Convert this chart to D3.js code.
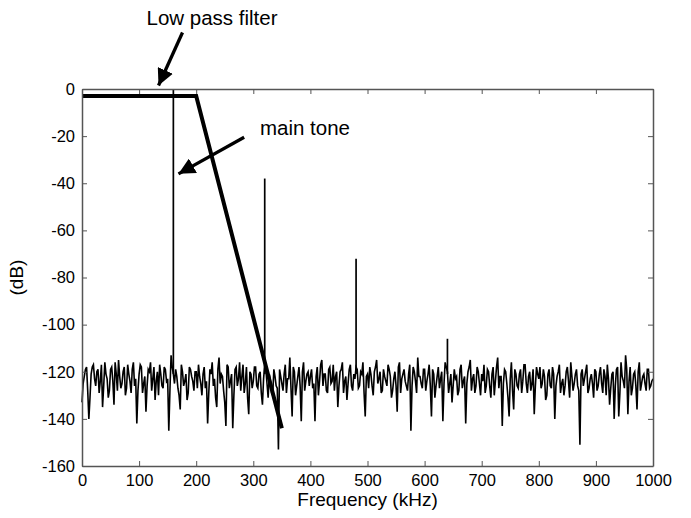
<!DOCTYPE html>
<html>
<head>
<meta charset="utf-8">
<script src="https://cdn.jsdelivr.net/npm/d3@7"></script>
<style>
  body { margin: 0; background: #fff; }
  text { font-family: "Liberation Sans", Arial, sans-serif; }
</style>
</head>
<body>
<div id="chart"></div>
<script>
// noise floor, read at 0, 4, 8 ... 1000 kHz
const noiseDb = [
  -133, -122, -118, -140, -121, -117, -126, -119, -124, -135, -116, -123, -128, -118, -134, -121, -115, -127, -120, -130, -117, -124, -119, -126, -142,
  -121, -118, -125, -137, -119, -116, -123, -132, -120, -117, -126, -118, -124, -145, -113, -121, -119, -127, -136, -120, -124, -132, -118, -122, -128,
  -120, -117, -125, -121, -127, -142, -119, -116, -123, -135, -114, -121, -128, -143, -118, -124, -144, -119, -126, -116, -122, -129, -118, -138, -121,
  -124, -118, -127, -120, -134, -117, -125, -121, -129, -119, -126, -153, -122, -128, -117, -123, -114, -139, -120, -126, -118, -141, -116, -124, -120,
  -122, -127, -141, -118, -124, -115, -121, -128, -119, -125, -117, -122, -135, -120, -116, -124, -132, -119, -126, -121, -118, -127, -120, -116, -139,
  -121, -118, -126, -120, -115, -123, -129, -119, -124, -117, -122, -128, -120, -137, -116, -123, -119, -126, -121, -145, -118, -124, -114, -122, -127,
  -119, -124, -117, -139, -121, -126, -118, -123, -141, -116, -120, -125, -133, -119, -122, -128, -117, -124, -142, -120, -115, -123, -129, -118, -125,
  -121, -117, -126, -120, -131, -118, -124, -114, -122, -143, -119, -125, -139, -116, -136, -121, -127, -119, -124, -117, -129, -120, -125, -138, -118,
  -123, -127, -119, -132, -121, -126, -118, -140, -122, -117, -125, -130, -120, -124, -116, -128, -121, -126, -151, -119, -123, -117, -127, -121, -131,
  -120, -126, -118, -129, -122, -117, -134, -121, -140, -119, -139, -116, -124, -113, -138, -118, -127, -120, -136, -116, -125, -121, -128, -119, -126,
  -123
];

// noise floor in between, read at 2, 6, 10 ... 998 kHz
const noiseDbMid = [
  -125, -119, -128, -131, -118, -123, -120, -129, -117, -126, -121, -131, -119, -124, -116, -128, -122, -125, -118, -127, -121, -129, -116, -123, -128,
  -117, -129, -122, -126, -120, -128, -118, -124, -130, -121, -127, -119, -123, -128, -118, -125, -122, -130, -117, -126, -121, -129, -119, -124, -120,
  -127, -122, -130, -118, -124, -129, -121, -126, -131, -119, -125, -122, -133, -117, -127, -121, -130, -118, -123, -128, -117, -125, -131, -120, -127,
  -118, -126, -121, -129, -123, -119, -131, -124, -130, -122, -127, -119, -125, -121, -129, -123, -127, -118, -130, -122, -126, -120, -128, -121, -126,
  -119, -125, -122, -130, -117, -126, -121, -129, -118, -124, -128, -120, -126, -119, -129, -122, -125, -117, -128, -123, -119, -126, -121, -129, -122,
  -127, -121, -130, -118, -125, -120, -128, -122, -126, -119, -131, -123, -126, -118, -129, -121, -124, -128, -117, -126, -120, -129, -122, -125, -119,
  -128, -121, -126, -119, -131, -122, -127, -120, -125, -118, -129, -121, -126, -123, -130, -119, -127, -122, -125, -118, -128, -121, -126, -120, -130,
  -124, -129, -119, -126, -121, -130, -118, -127, -122, -125, -120, -131, -123, -128, -119, -126, -121, -129, -117, -125, -122, -128, -119, -126, -121,
  -118, -125, -122, -130, -119, -127, -121, -126, -120, -129, -123, -126, -118, -131, -122, -125, -119, -128, -121, -126, -120, -129, -123, -125, -119,
  -128, -121, -125, -119, -130, -123, -127, -120, -126, -118, -129, -122, -127, -119, -124, -130, -121, -126, -120, -128, -122, -125, -119, -127, -124
];

// tone and harmonics
const toneKHz = [160, 320, 480, 640];
const toneDb = [0, -38, -72, -106];

// low pass filter response
const filterKHz = [0, 200, 350];
const filterDb = [-3, -3, -144];

const xTicks = [0, 100, 200, 300, 400, 500, 600, 700, 800, 900, 1000];
const yTicks = [0, -20, -40, -60, -80, -100, -120, -140, -160];

const width = 691;
const height = 518;
const margin = { top: 89, right: 38, bottom: 52, left: 82 };

const svg = d3.select("#chart")
  .append("svg")
  .attr("width", width)
  .attr("height", height);

const x = d3.scaleLinear()
  .domain([0, 1000])
  .range([margin.left, width - margin.right]);

const y = d3.scaleLinear()
  .domain([-160, 0])
  .range([height - margin.bottom, margin.top]);

const noise = [];
noiseDb.forEach((v, i) => {
  noise.push({ f: i * 4, db: v });
  if (i < noiseDbMid.length) noise.push({ f: i * 4 + 2, db: noiseDbMid[i] });
});

const line = d3.line()
  .x(d => x(d.f))
  .y(d => y(d.db));

svg.append("path")
  .datum(noise)
  .attr("fill", "none")
  .attr("stroke", "#000")
  .attr("stroke-width", 1.6)
  .attr("d", line);

svg.selectAll(".tone")
  .data(toneKHz)
  .join("line")
  .attr("class", "tone")
  .attr("x1", d => x(d))
  .attr("x2", d => x(d))
  .attr("y1", y(-121))
  .attr("y2", (d, i) => y(toneDb[i]))
  .attr("stroke", "#000")
  .attr("stroke-width", 1.7);

svg.append("path")
  .datum(filterKHz.map((f, i) => ({ f: f, db: filterDb[i] })))
  .attr("fill", "none")
  .attr("stroke", "#000")
  .attr("stroke-width", 4)
  .attr("stroke-linejoin", "miter")
  .attr("d", line);

// axes, ticks pointing inward on all four sides
const axisColor = "#555";
const tickLen = 5;
const fmt = d => String(d);

svg.append("g")
  .attr("transform", `translate(0, ${y(-160)})`)
  .call(d3.axisBottom(x).tickValues(xTicks).tickFormat(fmt).tickSizeInner(-tickLen).tickSizeOuter(0).tickPadding(8))
  .call(g => g.selectAll("text").attr("font-size", 16.5).attr("fill", "#000"));

svg.append("g")
  .attr("transform", `translate(0, ${y(0)})`)
  .call(d3.axisTop(x).tickValues(xTicks).tickSizeInner(-tickLen).tickSizeOuter(0).tickFormat(""));

svg.append("g")
  .attr("transform", `translate(${x(0)}, 0)`)
  .call(d3.axisLeft(y).tickValues(yTicks).tickFormat(fmt).tickSizeInner(-tickLen).tickSizeOuter(0).tickPadding(7))
  .call(g => g.selectAll("text").attr("font-size", 16.5).attr("fill", "#000"));

svg.append("g")
  .attr("transform", `translate(${x(1000)}, 0)`)
  .call(d3.axisRight(y).tickValues(yTicks).tickSizeInner(-tickLen).tickSizeOuter(0).tickFormat(""));

svg.selectAll(".domain").attr("stroke", axisColor).attr("stroke-width", 1.5);
svg.selectAll(".tick line").attr("stroke", axisColor);

svg.append("text")
  .attr("x", (x(0) + x(1000)) / 2)
  .attr("y", height - 12)
  .attr("text-anchor", "middle")
  .attr("font-size", 19)
  .text("Frequency (kHz)");

svg.append("text")
  .attr("transform", `translate(23, ${(y(0) + y(-160)) / 2}) rotate(-90)`)
  .attr("text-anchor", "middle")
  .attr("font-size", 19)
  .text("(dB)");

// annotations
svg.append("defs").append("marker")
  .attr("id", "arrow")
  .attr("viewBox", "0 0 10 10")
  .attr("refX", 10)
  .attr("refY", 5)
  .attr("markerWidth", 5)
  .attr("markerHeight", 5)
  .attr("markerUnits", "strokeWidth")
  .attr("orient", "auto")
  .append("path")
  .attr("d", "M0,0 L10,5 L0,10 Z")
  .attr("fill", "#000");

const notes = [
  { text: "Low pass filter", tx: 212, ty: 25, from: [176, 24], to: [134, 1.5] },
  { text: "main tone", tx: 305, ty: 135, from: [284, -20.5], to: [169, -36] }
];

notes.forEach(n => {
  svg.append("text")
    .attr("x", n.tx)
    .attr("y", n.ty)
    .attr("text-anchor", "middle")
    .attr("font-size", 20.5)
    .text(n.text);
  svg.append("line")
    .attr("x1", x(n.from[0]))
    .attr("y1", y(n.from[1]))
    .attr("x2", x(n.to[0]))
    .attr("y2", y(n.to[1]))
    .attr("stroke", "#000")
    .attr("stroke-width", 3.3)
    .attr("marker-end", "url(#arrow)");
});
</script>
</body>
</html>
